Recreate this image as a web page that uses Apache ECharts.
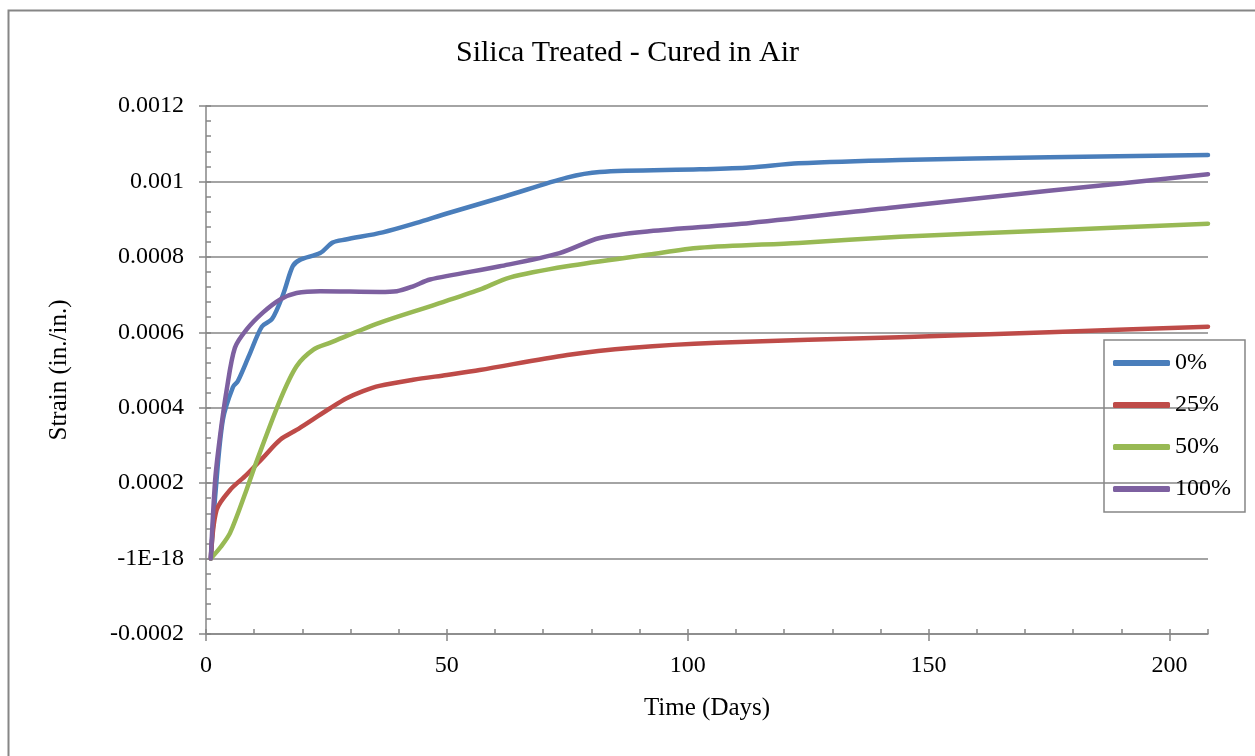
<!DOCTYPE html>
<html lang="en">
<head>
    <meta charset="UTF-8"/>
    <script src="https://cdn.jsdelivr.net/npm/echarts@6/dist/echarts.min.js"></script>
    <title>Silica Treated - Cured in Air</title>
    <style>
        html, body { margin: 0; padding: 0; background: #fff; }
    </style>
</head>
<body>
<div id="main" style="width: 1255px;height:756px;"></div>
<script type="text/javascript">
    // values: days and strain (in./in.)
    var seriesNames = ['0%', '25%', '50%', '100%'];

    var days0 = [1, 2, 3.5, 5.6, 6.6, 9, 11.6, 13.7, 16, 18, 19.5, 23.7, 26.3, 29, 36.7, 43.7, 50, 62, 74.9, 81.7, 102.5, 112.9, 123, 144, 175, 208];
    var strain0 = [0, 0.00018, 0.000368, 0.000455, 0.00047, 0.00054, 0.000615, 0.000635, 0.0007, 0.000775, 0.000792, 0.00081, 0.000838, 0.000846, 0.000865, 0.00089, 0.000915, 0.00096, 0.00101, 0.001025, 0.001032, 0.001037, 0.001048, 0.001057, 0.001064, 0.00107];

    var days25 = [1, 2.2, 5, 8.4, 11.8, 15.4, 18.8, 22.3, 25.7, 29.2, 32.6, 36, 43, 50, 56.8, 75, 88.6, 106, 144, 175, 208];
    var strain25 = [0, 0.000129, 0.000182, 0.000222, 0.000267, 0.000315, 0.000341, 0.00037, 0.000398, 0.000425, 0.000444, 0.000458, 0.000474, 0.000487, 0.0005, 0.00054, 0.000559, 0.000572, 0.000587, 0.0006, 0.000615];

    var days50 = [1, 3, 5, 8.4, 10.4, 15.4, 18.8, 22.3, 25.7, 36, 46.5, 56.8, 63, 74.9, 92, 102.5, 123, 144, 175, 208];
    var strain50 = [0, 0.00003, 0.000068, 0.000182, 0.000254, 0.000421, 0.00051, 0.000554, 0.000572, 0.000625, 0.000669, 0.000713, 0.000745, 0.000775, 0.000806, 0.000824, 0.000837, 0.000853, 0.00087, 0.000888];

    var days100 = [1, 1.9, 2.9, 4.3, 6, 8.4, 11.8, 15.4, 18.8, 23.7, 36, 39.6, 43, 46.5, 61, 73.4, 81.7, 92, 113, 144, 175, 208];
    var strain100 = [0, 0.000208, 0.000323, 0.000448, 0.000559, 0.000607, 0.000652, 0.000687, 0.000704, 0.000709, 0.000707, 0.000709, 0.000722, 0.00074, 0.000775, 0.00081, 0.00085, 0.000868, 0.00089, 0.000933, 0.000975, 0.001019];

    var yTickLabels = ['-0.0002', '-1E-18', '0.0002', '0.0004', '0.0006', '0.0008', '0.001', '0.0012'];
    var xTickLabels = ['0', '50', '100', '150', '200'];

    var colors = ['#4A7EBB', '#BE4B48', '#98B954', '#7D60A0'];

    function pairs(d, v) {
        var out = [];
        for (var i = 0; i < d.length; i++) {
            out.push([d[i], v[i]]);
        }
        return out;
    }

    var allData = [pairs(days0, strain0), pairs(days25, strain25), pairs(days50, strain50), pairs(days100, strain100)];

    var font = '"Liberation Serif", "DejaVu Serif", serif';
    var gray = '#868686';

    var myChart = echarts.init(document.getElementById('main'));

    var series = [];
    for (var s = 0; s < seriesNames.length; s++) {
        series.push({
            name: seriesNames[s],
            type: 'line',
            smooth: 0.3,
            showSymbol: false,
            data: allData[s],
            lineStyle: {width: 4.5, color: colors[s], cap: 'round', join: 'round'},
            itemStyle: {color: colors[s]},
            z: 3
        });
    }

    var option = {
        animation: false,
        backgroundColor: '#fff',
        title: {
            text: 'Silica Treated - Cured in Air',
            left: 'center',
            top: 33,
            textStyle: {fontFamily: font, fontSize: 30, fontWeight: 'normal', color: '#000'}
        },
        legend: {
            orient: 'vertical',
            left: 1104,
            top: 340,
            padding: [11, 14, 11, 9],
            itemGap: 18,
            itemWidth: 57,
            itemHeight: 6,
            icon: 'roundRect',
            borderColor: gray,
            borderWidth: 1.5,
            data: seriesNames,
            textStyle: {fontFamily: font, fontSize: 24, color: '#000', lineHeight: 24}
        },
        grid: {left: 206, top: 106, right: 47, bottom: 122},
        xAxis: [{
            type: 'value',
            min: 0,
            max: 208,
            interval: 50,
            name: 'Time (Days)',
            nameLocation: 'middle',
            nameGap: 62,
            nameTextStyle: {fontFamily: font, fontSize: 25, color: '#000'},
            axisLine: {show: true, onZero: false, lineStyle: {color: gray, width: 1.5}},
            axisTick: {show: true, length: 7, lineStyle: {color: gray, width: 1.5}},
            axisLabel: {
                fontFamily: font, fontSize: 24, color: '#000', margin: 20,
                showMaxLabel: false,
                formatter: function (v, i) { return xTickLabels[i] !== undefined ? xTickLabels[i] : ''; }
            },
            splitLine: {show: false}
        }, {
            type: 'value',
            min: 0,
            max: 208,
            interval: 10,
            position: 'bottom',
            axisLine: {show: false, onZero: false},
            axisTick: {show: true, inside: true, length: 5, lineStyle: {color: gray, width: 1.5}},
            axisLabel: {show: false},
            splitLine: {show: false}
        }],
        yAxis: [{
            type: 'value',
            min: -0.0002,
            max: 0.0012,
            interval: 0.0002,
            name: 'Strain (in./in.)',
            nameLocation: 'middle',
            nameGap: 134,
            nameTextStyle: {fontFamily: font, fontSize: 25, color: '#000'},
            axisLine: {show: true, onZero: false, lineStyle: {color: gray, width: 1.5}},
            axisTick: {show: true, length: 7, lineStyle: {color: gray, width: 1.5}},
            axisLabel: {
                fontFamily: font, fontSize: 24, color: '#000', margin: 22,
                formatter: function (v, i) { return yTickLabels[i]; }
            },
            splitLine: {show: true, lineStyle: {color: gray, width: 1.5}}
        }, {
            type: 'value',
            min: -0.0002,
            max: 0.0012,
            interval: 0.00004,
            position: 'left',
            axisLine: {show: false, onZero: false},
            axisTick: {show: true, inside: true, length: 5, lineStyle: {color: gray, width: 1.5}},
            axisLabel: {show: false},
            splitLine: {show: false}
        }],
        graphic: [{
            type: 'rect',
            shape: {x: 8.5, y: 10.5, width: 1300, height: 800},
            style: {fill: 'none', stroke: gray, lineWidth: 2},
            silent: true
        }],
        series: series
    };

    myChart.setOption(option);
</script>
</body>
</html>
